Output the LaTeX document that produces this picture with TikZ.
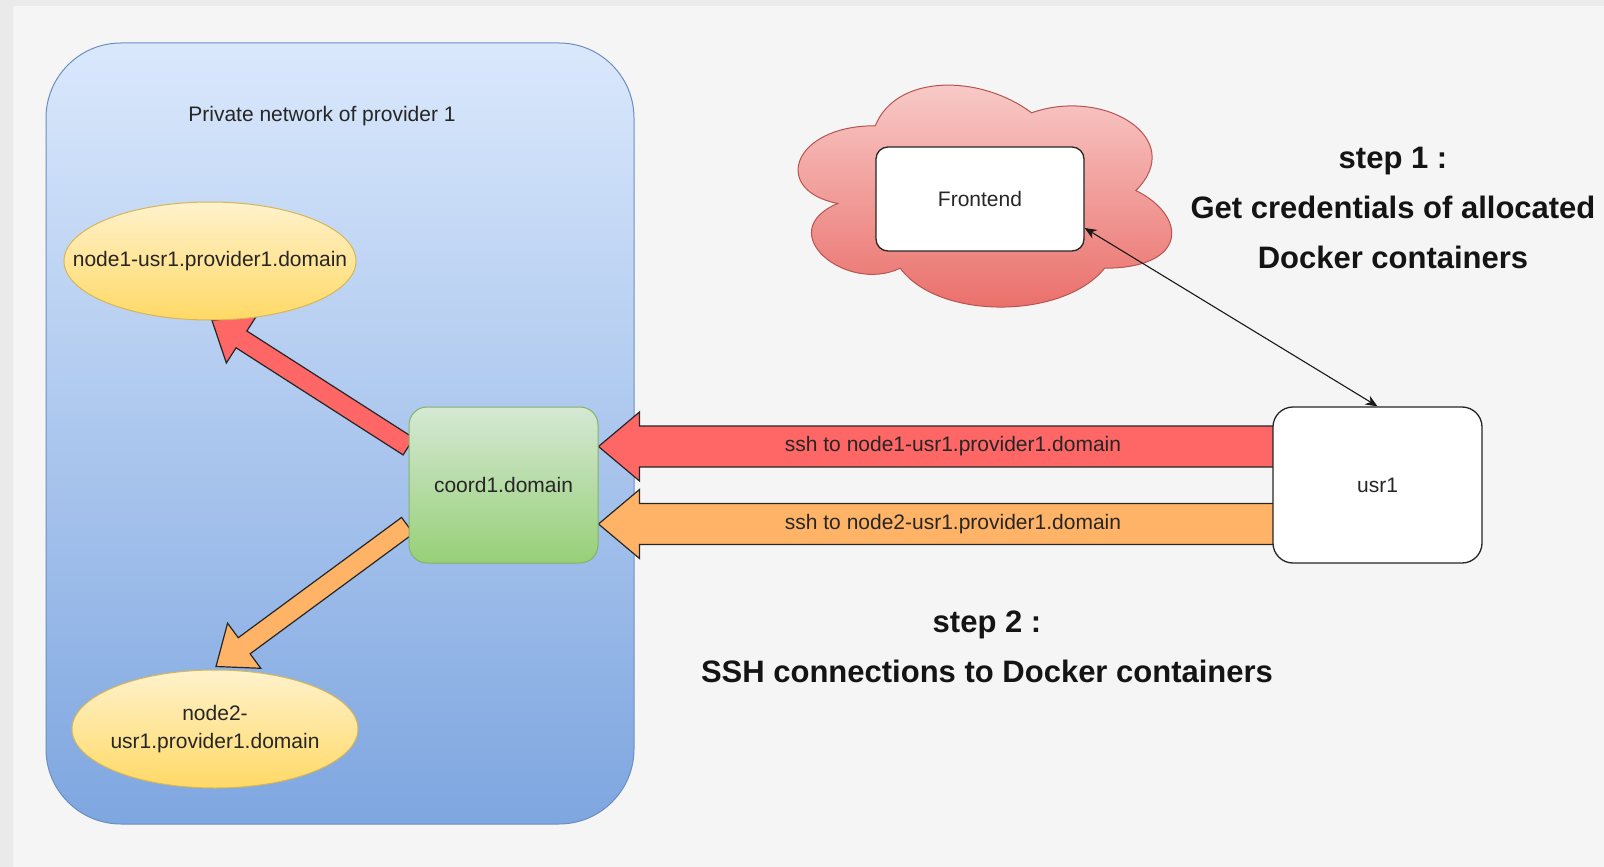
\documentclass[tikz,border=0pt]{standalone}
\usepackage{fontspec}
\setmainfont{Liberation Sans}
\usetikzlibrary{shapes.geometric,calc,arrows.meta}
\pgfdeclarelayer{bg}
\pgfdeclarelayer{back}
\pgfdeclarelayer{mid}
\pgfsetlayers{bg,back,mid,main}
\definecolor{bgcol}{HTML}{F5F5F5}
\definecolor{stripcol}{HTML}{EAEAEA}
\definecolor{nettop}{HTML}{DAE8FC}
\definecolor{netbot}{HTML}{7EA6E0}
\definecolor{netstroke}{HTML}{6C8EBF}
\definecolor{elltop}{HTML}{FFF2CC}
\definecolor{ellbot}{HTML}{FFD966}
\definecolor{ellstroke}{HTML}{D6B656}
\definecolor{greentop}{HTML}{D5E8D4}
\definecolor{greenbot}{HTML}{97D077}
\definecolor{greenstroke}{HTML}{82B366}
\definecolor{cloudtop}{HTML}{F8CECC}
\definecolor{cloudbot}{HTML}{EA6B66}
\definecolor{cloudstroke}{HTML}{B85450}
\definecolor{redarr}{HTML}{FF6666}
\definecolor{orarr}{HTML}{FFB366}
% flexible (outlined) arrow: #1 tail, #2 tip, #3 shaft half width, #4 head half width, #5 head length, #6 fill
\newcommand\flexarr[6]{%
  \coordinate (fa-b) at ($(#2)!#5!(#1)$);
  \path[flexline, fill=#6]
    ($(#1)!#3!90:(#2)$) -- ($(fa-b)!#3!90:(#2)$) -- ($(fa-b)!#4!90:(#2)$) -- (#2)
    -- ($(fa-b)!#4!-90:(#2)$) -- ($(fa-b)!#3!-90:(#2)$) -- ($(#1)!#3!-90:(#2)$) -- cycle;
}
\begin{document}
\begin{tikzpicture}[x=1pt,y=-1pt,
  lbl/.style={font=\fontsize{21}{28}\selectfont, text=black!85},
  bigtxt/.style={font=\fontsize{31}{50}\selectfont\bfseries, align=center, text=black!92},
  wbox/.style={draw=black!85, line width=1.3pt, fill=white, inner sep=0pt, lbl},
  ell/.style={ellipse, draw=ellstroke, line width=1pt, top color=elltop, bottom color=ellbot, inner sep=0pt, minimum height=118pt},
  flexline/.style={draw=black!85, line width=1.2pt, line join=miter},
  link/.style={draw=black!90, line width=1.1pt, {Stealth[length=12pt,width=10pt]}-{Stealth[length=12pt,width=10pt]}}
]
% background
\begin{pgfonlayer}{bg}
\fill[bgcol] (0,0) rectangle (1604,867);
\fill[stripcol] (0,0) rectangle (13,867);
\fill[stripcol] (0,0) rectangle (1604,6);
\end{pgfonlayer}
\useasboundingbox (0,0) rectangle (1604,867);

% private network container
\begin{pgfonlayer}{back}
\node[draw=netstroke, line width=1pt, rounded corners=75pt, top color=nettop, bottom color=netbot,
      minimum width=588pt, minimum height=781pt, inner sep=0pt] (net) at (340,433.5) {};
\end{pgfonlayer}
\node[lbl] (netlbl) at (322,116) {Private network of provider 1};

% nodes inside
\node[ell, minimum width=292pt] (n1) at (210,261) {};
\node[lbl] (n1lbl) at (n1) {node1-usr1.provider1.domain};
\node[ell, minimum width=286pt] (n2) at (215,729) {};
\node[lbl, align=center] (n2lbl) at (n2) {node2-\\usr1.provider1.domain};
\node[draw=greenstroke, line width=1pt, rounded corners=18pt, top color=greentop, bottom color=greenbot,
      minimum width=189pt, minimum height=156pt, inner sep=0pt, lbl] (coord) at (503.5,485) {coord1.domain};

% cloud
\path[draw=cloudstroke, line width=1pt, top color=cloudtop, bottom color=cloudbot]
  (875.25,125.75)
  .. controls (791.85,125.75) and (771,190.5) .. (837.72,203.45)
  .. controls (771,231.94) and (846.06,294.1) .. (900.27,268.2)
  .. controls (937.8,320) and (1062.9,320) .. (1104.6,268.2)
  .. controls (1188,268.2) and (1188,216.4) .. (1135.875,190.5)
  .. controls (1188,138.7) and (1104.6,86.9) .. (1031.625,112.8)
  .. controls (979.5,73.95) and (896.1,73.95) .. (875.25,125.75) -- cycle;
\node[wbox, rounded corners=12pt, minimum width=208pt, minimum height=104pt] (fe) at (980,199) {Frontend};

% user
\node[wbox, rounded corners=20pt, minimum width=209pt, minimum height=156pt] (usr) at (1377.5,485) {usr1};

% big arrows
\begin{pgfonlayer}{mid}
\coordinate (r1t) at ($(usr.west)+(4,-38.5)$);
\coordinate (r1h) at ($(coord.east)+(0,-38.5)$);
\coordinate (o1t) at ($(usr.west)+(4,39)$);
\coordinate (o1h) at ($(coord.east)+(0,39)$);
\coordinate (r2t) at ($(coord.west)+(0,-38.5)$);
\coordinate (r2h) at ($(n1.south)+(2,0)$);
\coordinate (o2t) at ($(coord.west)+(-1,40.5)$);
\coordinate (o2h) at ($(n2.north)+(1,-3)$);
\flexarr{r1t}{r1h}{20.5pt}{34.5pt}{41pt}{redarr}
\flexarr{o1t}{o1h}{20.5pt}{34.5pt}{41pt}{orarr}
\flexarr{r2t}{r2h}{10pt}{28pt}{35pt}{redarr}
\flexarr{o2t}{o2h}{10pt}{28pt}{35pt}{orarr}
\end{pgfonlayer}
\node[lbl] (s1) at (953,446) {ssh to node1-usr1.provider1.domain};
\node[lbl] (s2) at (953,524) {ssh to node2-usr1.provider1.domain};

% credentials link
\draw[link] (usr.north) -- ($(fe.east)+(0,29)$);

% step texts (base anchor = baseline of last line)
\node[bigtxt, anchor=base] (step1) at (1393,268) {step 1 :\\Get credentials of allocated\\Docker containers};
\node[bigtxt, anchor=base] (step2) at (987,682) {step 2 :\\SSH connections to Docker containers};
\end{tikzpicture}
\end{document}
